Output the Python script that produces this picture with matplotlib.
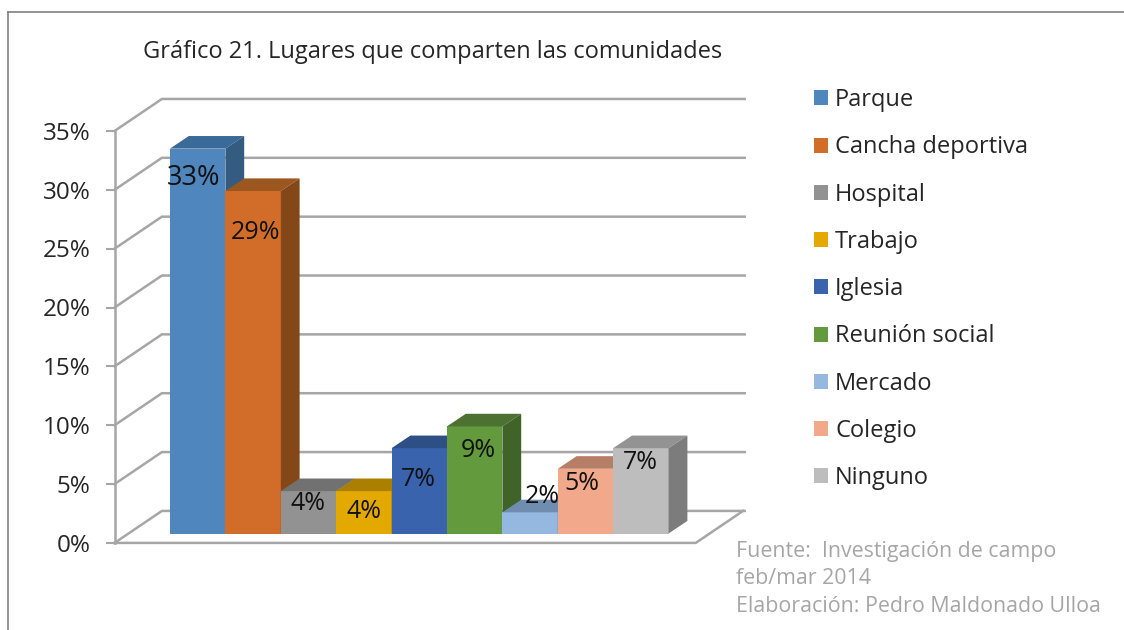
import matplotlib
matplotlib.use('Agg')
import matplotlib.pyplot as plt
from matplotlib.patches import Patch, Polygon

plt.rcParams['font.family'] = ['Open Sans', 'DejaVu Sans']

categories = ['Parque', 'Cancha deportiva', 'Hospital', 'Trabajo', 'Iglesia',
              'Reunión social', 'Mercado', 'Colegio', 'Ninguno']
values = [32.7, 29.1, 3.6, 3.6, 7.25, 9.1, 1.8, 5.5, 7.25]
value_labels = ['33%', '29%', '4%', '4%', '7%', '9%', '2%', '5%', '7%']
y_ticks = [0, 5, 10, 15, 20, 25, 30, 35]

front_colors = ['#4f86bd', '#d26d29', '#929292', '#e3a900', '#3a63ae',
                '#639a3e', '#94b8e0', '#f2a88a', '#bdbdbd']
top_colors = ['#3a6a97', '#9c561f', '#717171', '#ab8000', '#2e4f85',
              '#4c7130', '#6f8dae', '#b67e66', '#939393']
side_colors = ['#335c80', '#844718', '#5f5f5f', '#8f6b00', '#283f6e',
               '#3f6329', '#5d7892', '#99695a', '#7c7c7c']

# label offsets from the top centre of each bar, in pixels
label_dx = [-4, 2, 0, 0, -1, 4, 12, -4, -1]
label_dy = [-29, -42, -12, -20, -31, -24, 16, -15, -14]
label_sizes = [19.5, 18, 18, 18, 18, 18, 18, 18, 18]

source_lines = ['Fuente:  Investigación de campo', 'feb/mar 2014',
                'Elaboración: Pedro Maldonado Ulloa']

W, H = 1124, 630
BAR_PX = 55.4     # one category in pixels
UNIT_PX = 11.77   # one percent in pixels
X0_PX, Y0_PX = 170, 533.5

fig = plt.figure(figsize=(W / 100, H / 100), dpi=100, facecolor='white')
ax = fig.add_axes([0, 0, 1, 1])
# data units: x in categories, y in percent
ax.set_xlim(-X0_PX / BAR_PX, (W - X0_PX) / BAR_PX)
ax.set_ylim((Y0_PX - H) / UNIT_PX, Y0_PX / UNIT_PX)
ax.axis('off')

grid_color = '#a6a6a6'
bar_dx, bar_dy = 18.8 / BAR_PX, 12.6 / UNIT_PX

# walls and floor of the 3D box
left_x, right_x = -1.0, 9.49
base_y = -0.8
wall_dx, wall_dy = 47.3 / BAR_PX, 32 / UNIT_PX

for t in y_ticks:
    y = base_y + t
    ax.plot([left_x, left_x + wall_dx, right_x + wall_dx + 0.03],
            [y, y + wall_dy, y + wall_dy], color=grid_color, lw=1.8, zorder=1,
            solid_joinstyle='miter')
    ax.plot([left_x - 8 / BAR_PX, left_x], [y, y], color=grid_color, lw=1.5, zorder=1)
    ax.annotate(f'{t}%', (left_x - 24 / BAR_PX, y), xytext=(0, -2), textcoords='offset points',
                ha='right', va='center', fontsize=17.5, color='#262626')

ax.plot([left_x, left_x], [base_y, base_y + y_ticks[-1]], color=grid_color, lw=1.8, zorder=1)
ax.plot([left_x, right_x, right_x + wall_dx],
        [base_y, base_y, base_y + wall_dy], color=grid_color, lw=1.8, zorder=1)

# bars, front face through ax.bar, top and side from the same values
for i, v in enumerate(values):
    ax.bar(i, v, width=1, bottom=0, align='edge', color=front_colors[i], zorder=2 + i)
    ax.add_patch(Polygon([(i, v), (i + bar_dx, v + bar_dy), (i + 1 + bar_dx, v + bar_dy), (i + 1, v)],
                         closed=True, facecolor=top_colors[i], edgecolor='none', zorder=2 + i))
    ax.add_patch(Polygon([(i + 1, 0), (i + 1 + bar_dx, bar_dy), (i + 1 + bar_dx, v + bar_dy), (i + 1, v)],
                         closed=True, facecolor=side_colors[i], edgecolor='none', zorder=2 + i))

for i, v in enumerate(values):
    ax.annotate(value_labels[i], (i + 0.5, v),
                xytext=(label_dx[i] * 0.72, label_dy[i] * 0.72), textcoords='offset points',
                ha='center', va='center', fontsize=label_sizes[i], color='#111111', zorder=20)

fig.text(143 / W, 1 - 52 / H, 'Gráfico 21. Lugares que comparten las comunidades',
         ha='left', va='center', fontsize=17, color='#262626')

handles = [Patch(facecolor=c, edgecolor='none') for c in front_colors]
fig.legend(handles, categories, loc='upper left', bbox_to_anchor=(807 / W, 1 - 81 / H),
           frameon=False, fontsize=17, handlelength=0.6, handleheight=0.6,
           handletextpad=0.29, labelspacing=0.985, labelcolor='#262626', borderpad=0.3,
           borderaxespad=0)

for line, py in zip(source_lines, [552, 579, 606]):
    fig.text(736 / W, 1 - py / H, line, ha='left', va='center', fontsize=15.4, color='#a6a6a6')

# frame of the pasted picture: top and left edges only
ax.plot([7.5 / BAR_PX - X0_PX / BAR_PX] * 2, [(Y0_PX - H) / UNIT_PX, (Y0_PX - 12) / UNIT_PX],
        color='#808080', lw=1.2, zorder=1)
ax.plot([7.5 / BAR_PX - X0_PX / BAR_PX, (W - X0_PX) / BAR_PX], [(Y0_PX - 12) / UNIT_PX] * 2,
        color='#808080', lw=1.2, zorder=1)

fig.savefig('out.png', dpi=100)
